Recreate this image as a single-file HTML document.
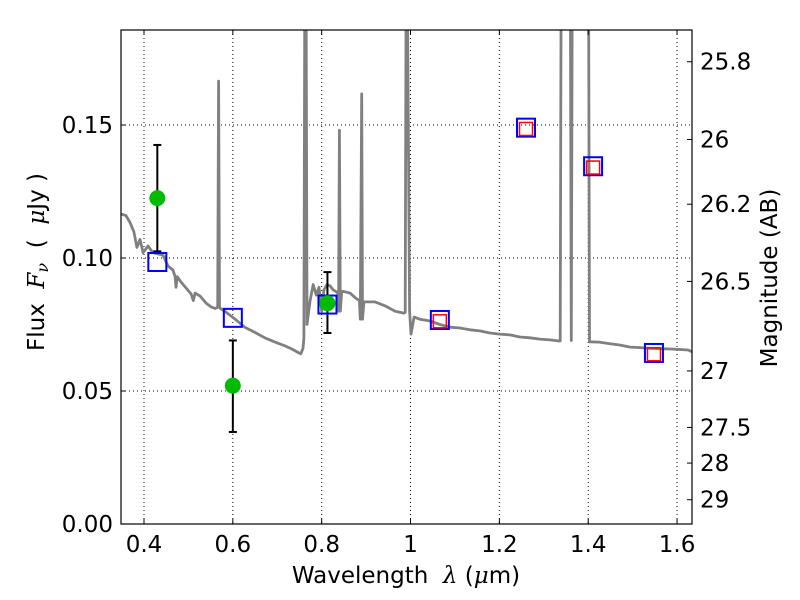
<!DOCTYPE html>
<html><head><meta charset="utf-8"><style>
body{margin:0;background:#fff;}
svg{display:block;font-family:"DejaVu Sans","Liberation Sans",sans-serif;}
</style></head><body>
<svg id="chart" width="800" height="600" xmlns="http://www.w3.org/2000/svg">
<g id="grid"></g>
<g id="spec"></g>
<g id="marks"></g>
<g id="axes"></g>
<text x="406" y="583" font-size="23" text-anchor="middle" xml:space="preserve">Wavelength  <tspan font-family="DejaVu Serif" font-style="italic">λ</tspan> (<tspan font-family="DejaVu Serif" font-style="italic">μ</tspan>m)</text>
<text transform="translate(44,262) rotate(-90)" font-size="23" text-anchor="middle" xml:space="preserve">Flux  <tspan font-family="DejaVu Serif" font-style="italic">F<tspan font-size="16" dy="4">ν</tspan></tspan><tspan dy="-4">  (  </tspan><tspan font-family="DejaVu Serif" font-style="italic">μ</tspan>Jy )</text>
<text transform="translate(777,278) rotate(-90)" font-size="23" text-anchor="middle">Magnitude (AB)</text>
</svg>
<script>
const specWave=[0.348,0.359,0.368,0.377,0.384,0.391,0.398,0.409,0.42,0.432,0.443,0.454,0.465,0.470,0.472,0.475,0.483,0.495,0.506,0.511,0.515,0.526,0.54,0.551,0.56,0.566,0.568,0.570,0.572,0.582,0.605,0.627,0.65,0.672,0.695,0.717,0.733,0.749,0.753,0.758,0.760,0.762,0.765,0.767,0.774,0.781,0.788,0.794,0.800,0.805,0.812,0.819,0.826,0.836,0.838,0.840,0.842,0.845,0.848,0.864,0.876,0.885,0.887,0.890,0.892,0.895,0.92,0.943,0.965,0.985,0.988,0.990,0.993,0.998,1.001,1.008,1.021,1.044,1.066,1.089,1.111,1.134,1.156,1.179,1.201,1.224,1.246,1.269,1.291,1.314,1.335,1.337,1.339,1.36,1.362,1.364,1.366,1.399,1.401,1.403,1.425,1.449,1.471,1.494,1.517,1.54,1.562,1.585,1.607,1.625,1.64];
const specFlux=[0.1165,0.116,0.1135,0.110,0.104,0.107,0.102,0.1045,0.102,0.1015,0.101,0.097,0.0955,0.093,0.089,0.093,0.091,0.0887,0.0865,0.084,0.0868,0.0857,0.083,0.0816,0.081,0.0815,0.1665,0.0815,0.081,0.080,0.077,0.074,0.072,0.070,0.0684,0.067,0.0658,0.0643,0.064,0.066,0.070,0.2,0.2,0.075,0.084,0.090,0.086,0.089,0.080,0.088,0.090,0.0895,0.088,0.087,0.08,0.148,0.08,0.0872,0.0875,0.0868,0.085,0.084,0.077,0.1617,0.077,0.0835,0.0835,0.082,0.080,0.0793,0.0795,0.2,0.2,0.080,0.0714,0.0778,0.077,0.0763,0.075,0.074,0.0737,0.073,0.0726,0.0718,0.0714,0.0711,0.0703,0.070,0.0695,0.0692,0.0688,0.0688,0.2,0.2,0.069,0.2,0.2,0.2,0.2,0.0685,0.0684,0.0678,0.0673,0.0665,0.0663,0.066,0.0659,0.0658,0.0656,0.0654,0.0643,0.063];
const obsWave=[0.43,0.60,0.813];
const obsFlux=[0.1225,0.052,0.083];
const obsLow=[0.1025,0.0346,0.0718];
const obsHigh=[0.1425,0.069,0.0947];
const modelWave=[0.43,0.60,0.813,1.066,1.26,1.411,1.548];
const modelFlux=[0.0985,0.0775,0.0825,0.0767,0.149,0.1345,0.0643];
const nirWave=[1.066,1.26,1.411,1.548];
const nirFlux=[0.0762,0.1485,0.134,0.0638];
const xTicks=[0.4,0.6,0.8,1.0,1.2,1.4,1.6];
const xTickLabels=["0.4","0.6","0.8","1","1.2","1.4","1.6"];
const yTicks=[0,0.05,0.10,0.15];
const yTickLabels=["0.00","0.05","0.10","0.15"];
const magTicks=[25.8,26,26.2,26.5,27,27.5,28,29];
const magLabels=["25.8","26","26.2","26.5","27","27.5","28","29"];

const L=121,R=692,T=30,B=524;
const X=w=>144+(w-0.4)*444.2;
const Y=f=>524-f*2660;
const NS="http://www.w3.org/2000/svg";
function mk(parent,tag,attrs){const e=document.createElementNS(NS,tag);for(const k in attrs)e.setAttribute(k,attrs[k]);parent.appendChild(e);return e;}
const grid=document.getElementById('grid'),spec=document.getElementById('spec'),marks=document.getElementById('marks'),axes=document.getElementById('axes');
const defs=mk(document.getElementById('chart'),'defs',{});
const cp=mk(defs,'clipPath',{id:'clip'});mk(cp,'rect',{x:L,y:T,width:R-L,height:B-T});
spec.setAttribute('clip-path','url(#clip)');
xTicks.forEach((t,i)=>{
 const x=X(t);
 const g=mk(grid,'line',{x1:x,x2:x,y1:T,y2:B,stroke:'#000','stroke-width':1,'stroke-dasharray':'1,3'});
 
 mk(axes,'line',{x1:x,x2:x,y1:B,y2:B-5,stroke:'#000'});
 mk(axes,'line',{x1:x,x2:x,y1:T,y2:T+5,stroke:'#000'});
 const tx=mk(axes,'text',{x:x,y:B+28,'font-size':23,'text-anchor':'middle'});tx.textContent=xTickLabels[i];
 
});
yTicks.forEach((t,i)=>{
 const y=Y(t);
 const g=mk(grid,'line',{x1:L,x2:R,y1:y,y2:y,stroke:'#000','stroke-width':1,'stroke-dasharray':'1,3'});
 
 mk(axes,'line',{x1:L,x2:L+5,y1:y,y2:y,stroke:'#000'});
 const tx=mk(axes,'text',{x:L-8,y:y+8,'font-size':23,'text-anchor':'end'});tx.textContent=yTickLabels[i];
 
});
magTicks.forEach((m,i)=>{
 const y=Y(Math.pow(10,(23.9-m)/2.5));
 mk(axes,'line',{x1:R,x2:R-5,y1:y,y2:y,stroke:'#000'});
 const tx=mk(axes,'text',{x:R+8,y:y+8,'font-size':23,'text-anchor':'start'});tx.textContent=magLabels[i];
 
});
const frame=mk(axes,'rect',{x:L,y:T,width:R-L,height:B-T,fill:'none',stroke:'#000','stroke-width':1.2});

const pts=specWave.map((w,i)=>X(w).toFixed(1)+','+Y(specFlux[i]).toFixed(1)).join(' ');
const pl=mk(spec,'polyline',{points:pts,fill:'none',stroke:'#808080','stroke-width':2.8,'stroke-linejoin':'round'});

obsWave.forEach((w,i)=>{
 const x=X(w);
 const e=mk(marks,'g',{});
 
 mk(e,'line',{x1:x,x2:x,y1:Y(obsLow[i]),y2:Y(obsHigh[i]),stroke:'#000','stroke-width':2});
 mk(e,'line',{x1:x-4,x2:x+4,y1:Y(obsLow[i]),y2:Y(obsLow[i]),stroke:'#000','stroke-width':2});
 mk(e,'line',{x1:x-4,x2:x+4,y1:Y(obsHigh[i]),y2:Y(obsHigh[i]),stroke:'#000','stroke-width':2});
});
modelWave.forEach((w,i)=>{
 const r=mk(marks,'rect',{x:X(w)-9,y:Y(modelFlux[i])-9,width:18,height:18,fill:'none',stroke:'#0000ff','stroke-width':2});
 
});
nirWave.forEach((w,i)=>{
 const r=mk(marks,'rect',{x:X(w)-6.5,y:Y(nirFlux[i])-6.5,width:13,height:13,fill:'none',stroke:'#ff0000','stroke-width':1.5});
 
});
obsWave.forEach((w,i)=>{
 const c=mk(marks,'circle',{cx:X(w),cy:Y(obsFlux[i]),r:8,fill:'#00bb00'});
 
});
</script>
</body></html>
